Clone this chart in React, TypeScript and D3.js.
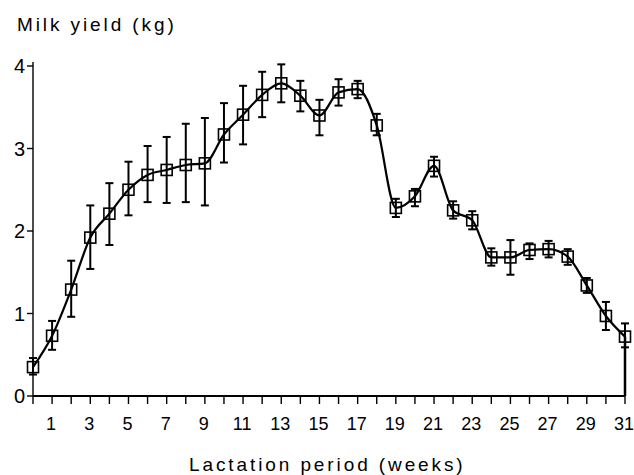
import React from "react";
import * as d3 from "d3";

const weeks = [0, 1, 2, 3, 4, 5, 6, 7, 8, 9, 10, 11, 12, 13, 14, 15, 16, 17, 18, 19, 20, 21, 22, 23, 24, 25, 26, 27, 28, 29, 30, 31];
const milkYield = [0.35, 0.73, 1.29, 1.92, 2.21, 2.5, 2.68, 2.74, 2.8, 2.82, 3.17, 3.41, 3.65, 3.79, 3.64, 3.4, 3.68, 3.72, 3.28, 2.28, 2.42, 2.79, 2.25, 2.13, 1.68, 1.68, 1.77, 1.78, 1.69, 1.34, 0.97, 0.72];
const errUp = [0.11, 0.18, 0.35, 0.39, 0.37, 0.34, 0.35, 0.4, 0.5, 0.55, 0.38, 0.35, 0.28, 0.23, 0.18, 0.19, 0.16, 0.1, 0.14, 0.11, 0.09, 0.11, 0.11, 0.11, 0.11, 0.21, 0.08, 0.1, 0.09, 0.09, 0.17, 0.16];
const errDown = [0.09, 0.17, 0.33, 0.38, 0.38, 0.31, 0.33, 0.4, 0.45, 0.51, 0.34, 0.36, 0.27, 0.23, 0.19, 0.24, 0.16, 0.11, 0.12, 0.11, 0.12, 0.13, 0.1, 0.11, 0.1, 0.21, 0.11, 0.1, 0.1, 0.09, 0.17, 0.13];
const yTicks = [0, 1, 2, 3, 4];
const xLabels = [1, 3, 5, 7, 9, 11, 13, 15, 17, 19, 21, 23, 25, 27, 29, 31];

const FONT = "'Liberation Sans', Arial, Helvetica, sans-serif";

export default function App() {
  const x = d3.scaleLinear().domain([0, 31]).range([33, 625]);
  const y = d3.scaleLinear().domain([0, 4]).range([396, 66]);

  const data = weeks.map((w, i) => ({ w: w, v: milkYield[i], up: errUp[i], down: errDown[i] }));

  const line = d3
    .line<{ w: number; v: number }>()
    .x((d) => x(d.w))
    .y((d) => y(d.v))
    .curve(d3.curveMonotoneX);

  const last = data[data.length - 1];
  const sq = 11;
  const cap = 4;

  return (
    <svg width={634} height={475} style={{ position: "absolute", left: 0, top: 0, background: "#fff" }}>
      {/* y axis */}
      <line x1={x(0)} x2={x(0)} y1={y(0)} y2={y(4) - 4} stroke="#000" strokeWidth={1.4} />
      {yTicks.map((t) => (
        <g key={"yt" + t}>
          <line x1={x(0) - 6} x2={x(0)} y1={y(t)} y2={y(t)} stroke="#000" strokeWidth={1.4} />
          <text x={25} y={y(t) + 7} textAnchor="end" fontFamily={FONT} fontSize={20} fill="#000">
            {t}
          </text>
        </g>
      ))}
      {/* x axis */}
      <line x1={x(0)} x2={x(31)} y1={y(0)} y2={y(0)} stroke="#000" strokeWidth={2} />
      {weeks.map((w) => (
        <line key={"xt" + w} x1={x(w)} x2={x(w)} y1={y(0)} y2={y(0) + 8} stroke="#000" strokeWidth={1.4} />
      ))}
      {xLabels.map((w) => (
        <text key={"xl" + w} x={x(w) - 1} y={430} textAnchor="middle" fontFamily={FONT} fontSize={18} fill="#000">
          {w}
        </text>
      ))}

      {/* error bars */}
      {data.map((d) => (
        <g key={"e" + d.w} stroke="#000" strokeWidth={2}>
          <line x1={x(d.w)} x2={x(d.w)} y1={y(d.v + d.up)} y2={y(d.v - d.down)} />
          <line x1={x(d.w) - cap} x2={x(d.w) + cap} y1={y(d.v + d.up)} y2={y(d.v + d.up)} />
          <line x1={x(d.w) - cap} x2={x(d.w) + cap} y1={y(d.v - d.down)} y2={y(d.v - d.down)} />
        </g>
      ))}

      {/* curve */}
      <path d={line(data) || ""} fill="none" stroke="#000" strokeWidth={2.2} />
      <line x1={x(last.w)} x2={x(last.w)} y1={y(last.v)} y2={y(0)} stroke="#000" strokeWidth={2.5} />

      {/* markers */}
      {data.map((d) => (
        <rect
          key={"m" + d.w}
          x={x(d.w) - sq / 2}
          y={y(d.v) - sq / 2}
          width={sq}
          height={sq}
          fill="none"
          stroke="#000"
          strokeWidth={1.6}
        />
      ))}

      <text x={17} y={31} fontFamily={FONT} fontSize={19} letterSpacing={2.9} fill="#000">
        Milk yield (kg)
      </text>
      <text x={189} y={471} fontFamily={FONT} fontSize={19} letterSpacing={2.9} fill="#000">
        Lactation period (weeks)
      </text>
    </svg>
  );
}
